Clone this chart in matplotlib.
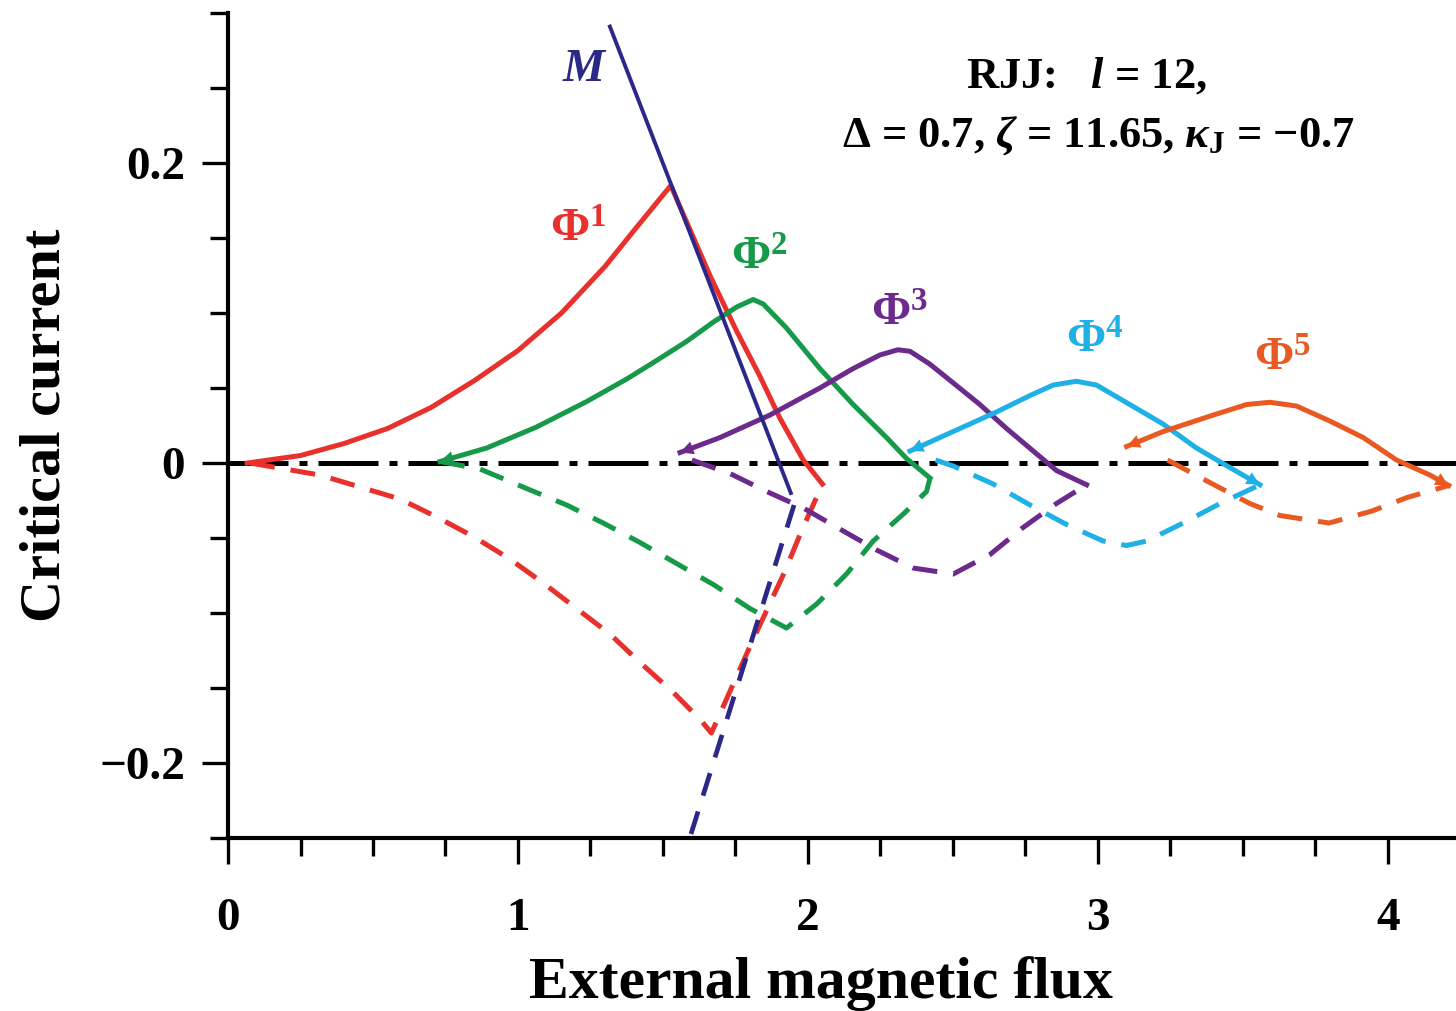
import matplotlib
matplotlib.use("Agg")
import matplotlib.pyplot as plt
from matplotlib.ticker import MultipleLocator, FixedLocator

plt.rcParams['font.family'] = ['Liberation Serif', 'DejaVu Serif']
plt.rcParams['font.weight'] = 'bold'
plt.rcParams['mathtext.fontset'] = 'custom'
plt.rcParams['mathtext.rm'] = 'Liberation Serif:bold'
plt.rcParams['mathtext.it'] = 'Liberation Serif:italic:bold'
plt.rcParams['mathtext.bf'] = 'Liberation Serif:bold'

# curve data (flux, critical current)
phi1_x = [0.066, 0.25, 0.40, 0.55, 0.70, 0.85, 1.00, 1.15, 1.30, 1.40, 1.527,
          1.662, 1.754, 1.834, 1.903, 1.984, 2.050]
phi1_y = [0.000, 0.005, 0.013, 0.023, 0.037, 0.055, 0.075, 0.100, 0.131, 0.155, 0.185,
          0.125, 0.088, 0.058, 0.030, 0.002, -0.014]
phi1d_x = [0.076, 0.317, 0.455, 0.593, 0.720, 0.846, 0.972, 1.087, 1.202, 1.317, 1.421, 1.536, 1.633, 1.667,
           1.810, 1.921, 1.972, 2.050]
phi1d_y = [0.000, -0.008, -0.016, -0.024, -0.036, -0.049, -0.064, -0.080, -0.097, -0.114, -0.133, -0.153, -0.172, -0.180,
           -0.118, -0.072, -0.048, -0.014]

phi2_x = [0.731, 0.892, 1.064, 1.237, 1.375, 1.467, 1.581, 1.674, 1.754, 1.811, 1.846, 1.926, 2.041, 2.156, 2.271, 2.340, 2.421]
phi2_y = [0.001, 0.010, 0.024, 0.041, 0.056, 0.067, 0.081, 0.094, 0.104, 0.109, 0.106, 0.090, 0.063, 0.039, 0.017, 0.003, -0.010]
phi2d_x = [0.731, 0.869, 1.030, 1.168, 1.294, 1.421, 1.547, 1.674, 1.800, 1.926, 2.030, 2.133, 2.225, 2.329, 2.409, 2.421]
phi2d_y = [0.001, -0.004, -0.017, -0.028, -0.040, -0.053, -0.067, -0.081, -0.097, -0.110, -0.094, -0.074, -0.052, -0.034, -0.019, -0.010]

phi3_x = [1.559, 1.697, 1.869, 2.041, 2.156, 2.248, 2.310, 2.352, 2.420, 2.478, 2.593, 2.685, 2.777, 2.857, 2.961]
phi3_y = [0.007, 0.017, 0.032, 0.050, 0.063, 0.072, 0.0755, 0.0745, 0.066, 0.057, 0.039, 0.023, 0.008, -0.005, -0.0145]
phi3d_x = [1.600, 1.731, 1.858, 1.984, 2.110, 2.237, 2.363, 2.501, 2.628, 2.742, 2.857, 2.961]
phi3d_y = [0.002, -0.007, -0.019, -0.030, -0.044, -0.058, -0.070, -0.074, -0.061, -0.043, -0.027, -0.0145]

phi4_x = [2.352, 2.478, 2.650, 2.766, 2.846, 2.926, 2.995, 3.110, 3.225, 3.340, 3.455, 3.559]
phi4_y = [0.008, 0.019, 0.034, 0.045, 0.052, 0.0545, 0.052, 0.039, 0.026, 0.010, -0.003, -0.0145]
phi4d_x = [2.440, 2.501, 2.639, 2.766, 2.892, 3.018, 3.099, 3.168, 3.294, 3.421, 3.559]
phi4d_y = [0.002, -0.002, -0.014, -0.028, -0.041, -0.052, -0.055, -0.052, -0.040, -0.027, -0.0145]

phi5_x = [3.099, 3.225, 3.398, 3.513, 3.593, 3.685, 3.800, 3.915, 4.030, 4.145, 4.210]
phi5_y = [0.011, 0.021, 0.032, 0.039, 0.0405, 0.038, 0.028, 0.017, 0.002, -0.008, -0.015]
phi5d_x = [3.240, 3.386, 3.524, 3.628, 3.797, 3.945, 4.066, 4.210]
phi5d_y = [0.002, -0.013, -0.027, -0.035, -0.040, -0.032, -0.023, -0.015]

m_x = [1.317, 1.941]
m_y = [0.291, -0.020]
md_x = [1.952, 1.573]
md_y = [-0.028, -0.262]

red = '#e8302c'
green = '#17994a'
purple = '#6b2a8c'
cyan = '#1fb0e6'
orange = '#e85a22'
navy = '#2b2889'

fig = plt.figure(figsize=(14.56, 10.11), dpi=100)
ax = fig.add_axes([0.1566, 0.1711, 0.8434, 0.8160])
ax.set_xlim(0, 4.235)
ax.set_ylim(-0.25, 0.3)

# zero line
ax.axhline(0, color='black', lw=3.6, dashes=(12, 2.2, 1.6, 2.2), zorder=1)

solid = [(phi1_x, phi1_y, red), (phi2_x, phi2_y, green), (phi3_x, phi3_y, purple),
         (phi4_x, phi4_y, cyan), (phi5_x, phi5_y, orange)]
dashed = [(phi1d_x, phi1d_y, red), (phi2d_x, phi2d_y, green), (phi3d_x, phi3d_y, purple),
          (phi4d_x, phi4d_y, cyan), (phi5d_x, phi5d_y, orange)]

for xs, ys, c in dashed:
    ax.plot(xs, ys, color=c, lw=3.6, dashes=(5, 3.2), solid_capstyle='butt', zorder=2)
for xs, ys, c in solid:
    ax.plot(xs, ys, color=c, lw=3.6, solid_joinstyle='round', zorder=3)

ax.plot(m_x, m_y, color=navy, lw=2.8, zorder=4)
ax.plot(md_x, md_y, color=navy, lw=3.4, dashes=(5, 3.5), zorder=4)

# small arrowheads at the ends of the solid branches
for xs, ys, c in solid[1:]:
    ax.annotate('', xy=(xs[0], ys[0]), xytext=(xs[1], ys[1]),
                arrowprops=dict(arrowstyle='-|>', color=c, lw=0, mutation_scale=24,
                                shrinkA=0, shrinkB=0), zorder=5)
for xs, ys, c in solid[3:]:
    ax.annotate('', xy=(xs[-1], ys[-1]), xytext=(xs[-2], ys[-2]),
                arrowprops=dict(arrowstyle='-|>', color=c, lw=0, mutation_scale=24,
                                shrinkA=0, shrinkB=0), zorder=5)

# curve labels
lab_kw = dict(fontsize=34, ha='center', va='center')
ax.text(1.231, 0.262, r'$M$', color=navy, **lab_kw)
ax.text(1.207, 0.155, r'$\Phi^1$', color=red, **lab_kw)
ax.text(1.834, 0.136, r'$\Phi^2$', color=green, **lab_kw)
ax.text(2.317, 0.099, r'$\Phi^3$', color=purple, **lab_kw)
ax.text(2.990, 0.081, r'$\Phi^4$', color=cyan, **lab_kw)
ax.text(3.638, 0.069, r'$\Phi^5$', color=orange, **lab_kw)

ax.text(2.96, 0.258, r'RJJ:   $\mathit{l}$ = 12,', fontsize=32, ha='center', va='center')
ax.text(3.00, 0.218, r'$\Delta$ = 0.7, $\zeta$ = 11.65, $\kappa_\mathrm{J}$ = $-$0.7',
        fontsize=32, ha='center', va='center')

# axes styling
for s in ['top', 'right']:
    ax.spines[s].set_visible(False)
for s in ['left', 'bottom']:
    ax.spines[s].set_linewidth(3.0)

ax.xaxis.set_major_locator(FixedLocator([0, 1, 2, 3, 4]))
ax.xaxis.set_minor_locator(MultipleLocator(0.25))
ax.yaxis.set_major_locator(FixedLocator([-0.2, 0, 0.2]))
ax.yaxis.set_minor_locator(MultipleLocator(0.05))
ax.set_yticklabels(['\u22120.2', '0', '0.2'])
ax.tick_params(which='major', direction='out', length=19, width=2.4, labelsize=34)
ax.tick_params(which='minor', direction='out', length=13, width=2.4)
ax.tick_params(axis='x', which='major', pad=24)
ax.tick_params(axis='y', which='major', pad=12)

ax.set_xlabel('External magnetic flux', fontsize=43, fontweight='bold')
ax.set_ylabel('Critical current', fontsize=42, fontweight='bold', labelpad=20)
ax.xaxis.set_label_coords(0.483, -0.143)

fig.savefig('out.png', dpi=100)
